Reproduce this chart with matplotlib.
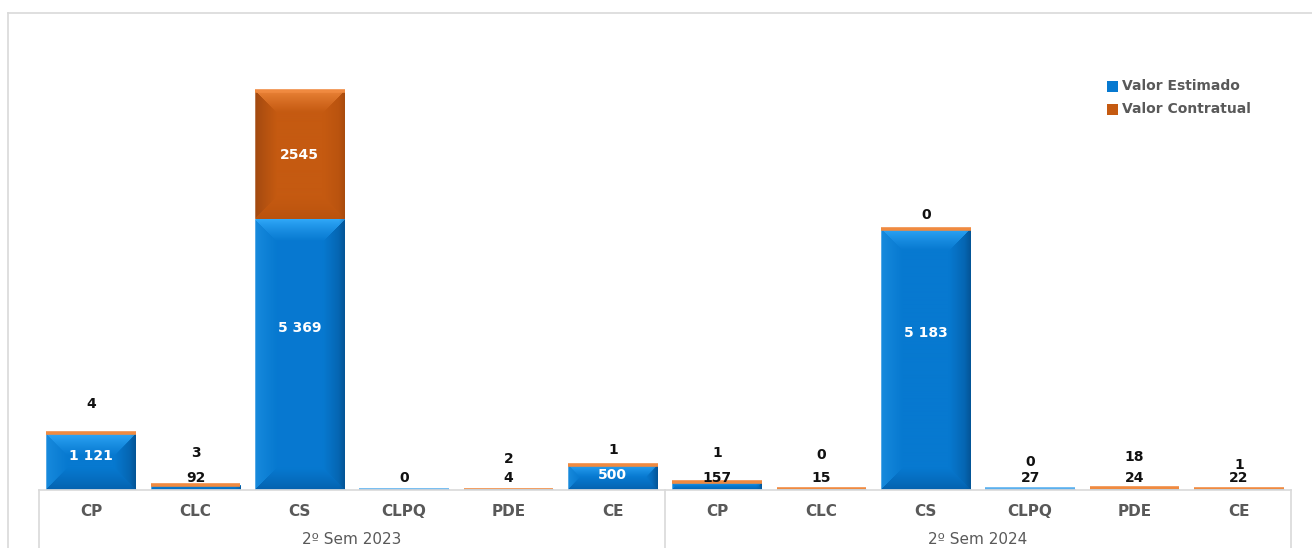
import numpy as np
import matplotlib
matplotlib.use("Agg")
import matplotlib.pyplot as plt
from matplotlib import transforms
from matplotlib.lines import Line2D
from matplotlib.patches import Rectangle

# ---------------- data ----------------
categories = ["CP", "CLC", "CS", "CLPQ", "PDE", "CE"]
groups = ["2º Sem 2023", "2º Sem 2024"]
valor_estimado = [1121, 92, 5369, 0, 4, 500, 157, 15, 5183, 27, 24, 22]
valor_contratual = [4, 3, 2545, 0, 2, 1, 1, 0, 0, 0, 18, 1]
series_names = ["Valor Estimado", "Valor Contratual"]

# ---------------- layout ----------------
W, H, DPI = 1312, 548, 100
base_px = 490          # baseline y (pixel from top)
left_px, right_px = 39, 1291
top_px = 36.4
YMAX = 9000
bar_w = 0.86
# label offsets (pixels above stack top) for contratual labels; None -> inside / hidden
con_off_px = [29, 32, None, None, 31, 15, 29, 34, 14, 27, 31, 24]

blue_c = np.array([7, 121, 208]) / 255
blue_top = np.array([50, 170, 250]) / 255
blue_right = np.array([4, 90, 160]) / 255
blue_left = np.array([25, 140, 222]) / 255
blue_bot = np.array([4, 96, 172]) / 255
or_c = np.array([197, 90, 17]) / 255
or_top = np.array([238, 135, 60]) / 255
or_left = np.array([160, 72, 16]) / 255
or_right = np.array([180, 80, 14]) / 255
or_bot = np.array([185, 82, 14]) / 255

fig = plt.figure(figsize=(W / DPI, H / DPI), dpi=DPI)
fig.patch.set_facecolor("white")
ax = fig.add_axes([left_px / W, 1 - base_px / H,
                   (right_px - left_px) / W, (base_px - top_px) / H])
n = len(valor_estimado)
x = np.arange(n)
ax.set_xlim(-0.5, n - 0.5)
ax.set_ylim(0, YMAX)
ax.axis("off")

px_per_unit = (base_px - top_px) / YMAX
slot_px = (right_px - left_px) / n
bar_px_w = bar_w * slot_px


def bevel_image(hpx, wpx, c, top, left, right, bot, depth=22):
    hpx = max(int(round(hpx)), 1)
    wpx = max(int(round(wpx)), 1)
    v = np.arange(hpx)[:, None] + 0.5
    u = np.arange(wpx)[None, :] + 0.5
    dt = np.broadcast_to(v, (hpx, wpx))
    db = np.broadcast_to(hpx - v, (hpx, wpx))
    dl = np.broadcast_to(u, (hpx, wpx))
    dr = np.broadcast_to(wpx - u, (hpx, wpx))
    d = np.stack([dt, db, dl, dr])
    idx = np.argmin(d, axis=0)
    dmin = np.min(d, axis=0)
    t = np.clip(dmin / depth, 0, 1)[..., None] ** 0.8
    edge_cols = np.array([top, bot, left, right])[idx]
    img = edge_cols * (1 - t) + c * t
    # narrow darker stripe at right edge, light hairline at left edge
    rs = np.clip(1 - dr / 6, 0, 1)[..., None] * 0.35
    img = img * (1 - rs) + right * 0.8 * rs
    ls = np.clip(1 - dl / 1.5, 0, 1)[..., None] * 0.4
    img = img * (1 - ls) + np.array([1, 1, 1]) * ls
    return np.clip(img, 0, 1)


bottoms = np.zeros(n)
series = [(valor_estimado, (blue_c, blue_top, blue_left, blue_right, blue_bot)),
          (valor_contratual, (or_c, or_top, or_left, or_right, or_bot))]
for vals, cols in series:
    vals = np.array(vals, dtype=float)
    ax.bar(x, vals, bar_w, bottom=bottoms, color=cols[0], linewidth=0, zorder=2)
    for i in range(n):
        hpx = vals[i] * px_per_unit
        if hpx > 4:
            img = bevel_image(hpx, bar_px_w, *cols, depth=min(22, hpx / 2))
            ax.imshow(img, extent=(x[i] - bar_w / 2, x[i] + bar_w / 2,
                                   bottoms[i], bottoms[i] + vals[i]),
                      aspect="auto", zorder=3, interpolation="bilinear")
    bottoms = bottoms + vals

totals = np.array(valor_estimado) + np.array(valor_contratual)
# thin bevel edges (visible even for tiny segments)
for i in range(n):
    ax.plot([x[i] - bar_w / 2, x[i] + bar_w / 2], [totals[i], totals[i]],
            color="#F08A40" if categories[i % 6] != "CLPQ" else "#5AB0EE",
            lw=2.6, solid_capstyle="butt", zorder=4)
    ax.plot([x[i] - bar_w / 2, x[i] + bar_w / 2], [0, 0],
            color="#5FA8E2", lw=1.8, solid_capstyle="butt", zorder=4)
ax.set_xlim(-0.5, n - 0.5)
ax.set_ylim(0, YMAX)

# ---------------- labels ----------------
unit_per_px = 1 / px_per_unit
for i in range(n):
    e, c = valor_estimado[i], valor_contratual[i]
    elab = f"{e:,}".replace(",", " ")
    if e * px_per_unit > 20:
        ax.text(x[i], e * 0.6, elab, ha="center", va="center", color="white",
                fontsize=10, fontweight="bold", zorder=6)
    else:
        ax.text(x[i], 12 * unit_per_px, elab, ha="center", va="center",
                color="#111111", fontsize=10, fontweight="bold", zorder=6)
    if c * px_per_unit > 20:
        ax.text(x[i], e + c / 2, str(c), ha="center", va="center", color="white",
                fontsize=10, fontweight="bold", zorder=6)
    elif con_off_px[i] is not None:
        ax.text(x[i], totals[i] + con_off_px[i] * unit_per_px, str(c),
                ha="center", va="center", color="#111111", fontsize=10,
                fontweight="bold", zorder=6)

# ---------------- category axis ----------------
grid_c = "#D9D9D9"
fig.add_artist(Line2D([left_px / W, right_px / W], [1 - base_px / H] * 2,
                      color=grid_c, lw=1.2))
for gx in [left_px, (left_px + right_px) / 2, right_px]:
    fig.add_artist(Line2D([gx / W, gx / W], [1 - base_px / H, 0],
                          color=grid_c, lw=1.2))
trans = transforms.blended_transform_factory(ax.transData, fig.transFigure)
for i in range(n):
    ax.text(x[i], 1 - 512 / H, categories[i % 6], transform=trans, ha="center",
            va="center", fontsize=11, fontweight="bold", color="#595959",
            clip_on=False)
for g, name in enumerate(groups):
    ax.text(g * 6 + 2.5, 1 - 539 / H, name, transform=trans, ha="center",
            va="center", fontsize=11, color="#595959", clip_on=False)

# outer chart frame
fig.add_artist(Line2D([8 / W, 1.0], [1 - 13 / H] * 2, color=grid_c, lw=1.2))
fig.add_artist(Line2D([8 / W, 8 / W], [1 - 13 / H, 0], color=grid_c, lw=1.2))

# ---------------- legend ----------------
leg_cols = [blue_c, or_c]
leg_y = [86, 109]
for name, col, ly in zip(series_names, leg_cols, leg_y):
    fig.add_artist(Rectangle((1107 / W, 1 - (ly + 5.5) / H), 11 / W, 11 / H,
                             facecolor=col, edgecolor="none"))
    fig.text(1122 / W, 1 - ly / H, name, ha="left", va="center", fontsize=10,
             fontweight="bold", color="#595959")

fig.savefig("out.png", dpi=DPI, facecolor="white")
